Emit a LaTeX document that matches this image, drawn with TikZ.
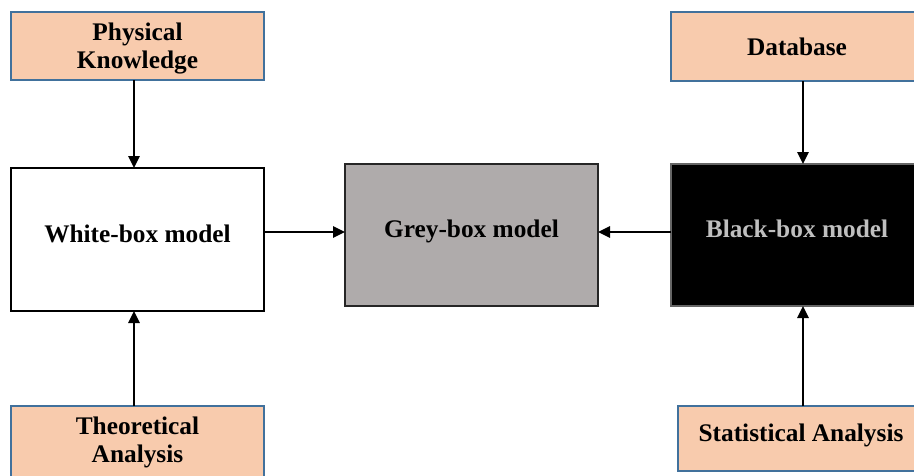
\documentclass[tikz,border=0pt]{standalone}
\usepackage{fontspec}
\setmainfont{Liberation Serif}
\usetikzlibrary{arrows.meta}
\definecolor{peach}{HTML}{F8CBAD}
\definecolor{bluebd}{HTML}{41719C}
\definecolor{greyfill}{HTML}{AFABAB}
\definecolor{blacktext}{HTML}{BFBFBF}
\tikzset{
  src/.style={draw=bluebd, line width=1.5pt, fill=peach, inner sep=0pt, outer sep=0pt, align=center,
    font=\bfseries\fontsize{19pt}{21pt}\selectfont},
  model/.style={line width=1.5pt, inner sep=0pt, outer sep=0pt, align=center, text height=13pt, text depth=9pt,
    font=\bfseries\fontsize{19pt}{21pt}\selectfont},
  arr/.style={line width=1.5pt, -{Triangle[length=9pt,width=8.5pt]}}
}
\begin{document}
\begin{tikzpicture}[x=0.75pt, y=-0.75pt]
\useasboundingbox (0,0) rectangle (914,475);
\clip (0,0) rectangle (914,475);
\fill[white] (0,0) rectangle (914,475);
% source boxes
\node[src, minimum width=189.75pt, minimum height=51pt, text depth=1pt] (pk) at (137.5,46) {Physical\\Knowledge};
\node[src, minimum width=189.75pt, minimum height=54pt] (ta) at (137.5,442) {Theoretical\\Analysis};
\node[src, minimum width=189pt, minimum height=51.75pt] (db) at (797,46.5) {Database};
\node[src, minimum width=184.5pt, minimum height=48.75pt, text height=13pt, text depth=8pt] (sa) at (801,438.5) {Statistical Analysis};
% model boxes
\node[model, draw=black, fill=white, minimum width=189.75pt, minimum height=107.25pt] (wb) at (137.5,239.5) {White-box model};
\node[model, draw=black!85, fill=greyfill, minimum width=189.75pt, minimum height=106.5pt] (gb) at (471.5,235) {Grey-box model};
\node[model, draw=black!60, fill=black, text=blacktext, minimum width=189pt, minimum height=106.5pt] (bb) at (797,235) {Black-box model};
% connectors
\draw[arr] (pk.south -| 134,0) -- (wb.north -| 134,0);
\draw[arr] (ta.north -| 134,0) -- (wb.south -| 134,0);
\draw[arr] (db.south -| 803,0) -- (bb.north -| 803,0);
\draw[arr] (sa.north -| 803,0) -- (bb.south -| 803,0);
\draw[arr] (wb.east |- 0,232) -- (gb.west |- 0,232);
\draw[arr] (bb.west |- 0,232) -- (gb.east |- 0,232);
\end{tikzpicture}
\end{document}
